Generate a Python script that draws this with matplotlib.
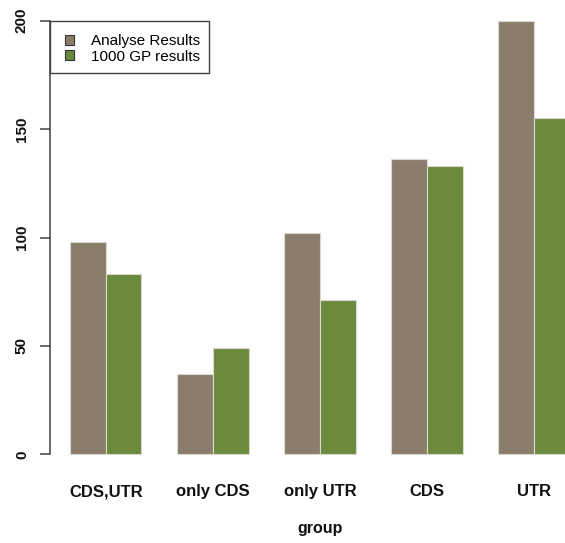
import matplotlib
matplotlib.use("Agg")
import matplotlib.pyplot as plt
from matplotlib.patches import Rectangle
import numpy as np

groups = ["CDS,UTR", "only CDS", "only UTR", "CDS", "UTR"]
analyse_results = [98, 37, 102, 136, 200]
gp_results = [83, 49, 71, 133, 155]
series_names = ["Analyse Results", "1000 GP results"]
y_ticks = [0, 50, 100, 150, 200]

col_analyse = "#8B7D6B"
col_gp = "#6B8A3C"
edge = "#d9d9d0"

plt.rcParams["font.family"] = ["Liberation Sans", "DejaVu Sans"]

W, H = 565, 543
fig = plt.figure(figsize=(W / 100, H / 100), dpi=100)

# plot region in pixel terms (R-style barplot with 4% axis padding)
x0_px, unit_px = 34.3, 35.7
left_px, top_px, bottom_px = 50, 3.4, 471.6
ax = fig.add_axes([left_px / W, (H - bottom_px) / H, 1 - left_px / W, (bottom_px - top_px) / H])

n = len(groups)
pos_a = 1 + 3 * np.arange(n)
pos_g = pos_a + 1
ax.bar(pos_a, analyse_results, width=1, align="edge", color=col_analyse,
       edgecolor=edge, linewidth=0.8, label=series_names[0])
ax.bar(pos_g, gp_results, width=1, align="edge", color=col_gp,
       edgecolor=edge, linewidth=0.8, label=series_names[1])

ax.set_xlim((left_px - x0_px) / unit_px, (W - x0_px) / unit_px)
ax.set_ylim(-8, 208)

for s in ["top", "right", "bottom"]:
    ax.spines[s].set_visible(False)
ax.spines["left"].set_bounds(0, 200)
ax.spines["left"].set_color("#404040")
ax.spines["left"].set_linewidth(1.1)

ax.set_yticks(y_ticks)
ax.set_yticklabels([str(t) for t in y_ticks], rotation=90, va="center",
                   fontsize=11, fontweight="bold", color="#111111")
ax.tick_params(axis="y", length=7.2, width=1.1, color="#404040", pad=8)

ax.set_xticks(pos_a + 1)
ax.set_xticklabels(groups, fontsize=12, fontweight="bold", color="#111111")
ax.tick_params(axis="x", length=0, pad=9)

# axis title centred on the full plotting region (which runs past the right edge)
x_center = (left_px + x0_px + 15.56 * unit_px) / 2
fig.text(x_center / W, (H - 533.5) / H, "group", fontsize=11.5, fontweight="bold",
         color="#111111", ha="center", va="baseline")

# legend entries without frame, plus a separate box around them
leg = ax.legend(loc="upper left", bbox_to_anchor=(65 / W, (H - 34) / H),
                bbox_transform=fig.transFigure,
                fontsize=11, frameon=False, borderaxespad=0, borderpad=0,
                handlelength=0.62, handleheight=0.62, handletextpad=1.05,
                labelspacing=0.1)
for h in leg.legend_handles:
    h.set_edgecolor("#333333")
    h.set_linewidth(0.8)
fig.patches.append(Rectangle((50 / W, (H - 73.3) / H), 159 / W, 52.6 / H,
                             transform=fig.transFigure, fill=False,
                             edgecolor="#404040", linewidth=1.0, zorder=5))

fig.savefig("out.png", dpi=100)
